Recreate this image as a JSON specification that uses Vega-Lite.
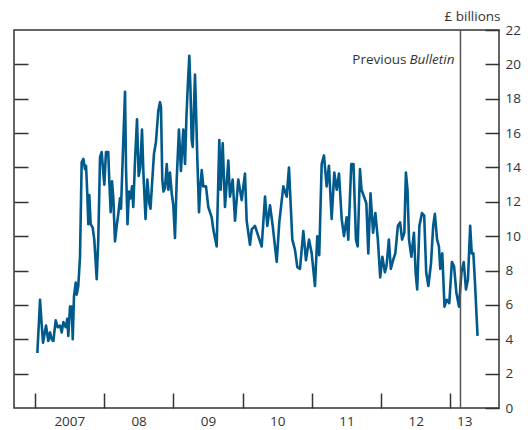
{
  "$schema": "https://vega.github.io/schema/vega-lite/v6.json",
  "width": 485,
  "height": 378,
  "autosize": {"type": "none"},
  "padding": {"left": 14, "top": 30, "right": 29, "bottom": 22},
  "config": {
    "view": {"stroke": "#333333", "strokeWidth": 1.5},
    "font": "Open Sans",
    "axis": {"labelFont": "Open Sans", "titleFont": "Open Sans", "labelColor": "#333333", "titleColor": "#333333", "tickColor": "#333333", "tickWidth": 1.5, "grid": false, "domain": false}
  },
  "layer": [
    {
      "data": {"values": [
        {"t":2007.038,"v":3.2},{"t":2007.077,"v":6.3},{"t":2007.098,"v":5.0},{"t":2007.120,"v":3.8},{"t":2007.163,"v":4.8},{"t":2007.196,"v":3.9},{"t":2007.221,"v":4.4},{"t":2007.245,"v":4.0},{"t":2007.269,"v":3.9},{"t":2007.303,"v":5.1},{"t":2007.332,"v":4.7},{"t":2007.365,"v":4.8},{"t":2007.390,"v":4.4},{"t":2007.413,"v":5.0},{"t":2007.448,"v":4.7},{"t":2007.471,"v":5.2},{"t":2007.485,"v":4.2},{"t":2007.510,"v":5.9},{"t":2007.534,"v":5.9},{"t":2007.549,"v":4.0},{"t":2007.567,"v":6.5},{"t":2007.592,"v":7.3},{"t":2007.606,"v":6.6},{"t":2007.629,"v":7.1},{"t":2007.654,"v":8.8},{"t":2007.678,"v":14.3},{"t":2007.702,"v":14.5},{"t":2007.726,"v":13.9},{"t":2007.741,"v":14.1},{"t":2007.759,"v":12.5},{"t":2007.774,"v":10.7},{"t":2007.788,"v":12.4},{"t":2007.808,"v":10.7},{"t":2007.837,"v":10.5},{"t":2007.860,"v":9.8},{"t":2007.895,"v":7.5},{"t":2007.918,"v":9.8},{"t":2007.943,"v":14.6},{"t":2007.967,"v":14.9},{"t":2007.990,"v":13.7},{"t":2008.005,"v":13.0},{"t":2008.029,"v":14.9},{"t":2008.062,"v":14.9},{"t":2008.077,"v":13.2},{"t":2008.097,"v":11.4},{"t":2008.116,"v":13.2},{"t":2008.135,"v":12.2},{"t":2008.159,"v":9.7},{"t":2008.184,"v":10.6},{"t":2008.207,"v":11.3},{"t":2008.231,"v":12.2},{"t":2008.246,"v":11.6},{"t":2008.270,"v":14.5},{"t":2008.304,"v":18.4},{"t":2008.318,"v":14.0},{"t":2008.340,"v":10.7},{"t":2008.361,"v":12.6},{"t":2008.383,"v":12.2},{"t":2008.405,"v":12.9},{"t":2008.423,"v":11.7},{"t":2008.448,"v":14.4},{"t":2008.477,"v":16.8},{"t":2008.501,"v":13.5},{"t":2008.524,"v":14.0},{"t":2008.549,"v":16.2},{"t":2008.571,"v":13.5},{"t":2008.600,"v":11.0},{"t":2008.626,"v":13.3},{"t":2008.654,"v":11.9},{"t":2008.672,"v":11.6},{"t":2008.701,"v":13.5},{"t":2008.722,"v":14.8},{"t":2008.751,"v":15.5},{"t":2008.784,"v":17.3},{"t":2008.809,"v":17.8},{"t":2008.823,"v":17.5},{"t":2008.842,"v":13.3},{"t":2008.859,"v":12.6},{"t":2008.881,"v":12.8},{"t":2008.906,"v":14.2},{"t":2008.929,"v":12.7},{"t":2008.953,"v":13.7},{"t":2008.978,"v":12.5},{"t":2009.001,"v":11.8},{"t":2009.025,"v":9.9},{"t":2009.050,"v":13.3},{"t":2009.082,"v":16.2},{"t":2009.111,"v":13.8},{"t":2009.145,"v":16.2},{"t":2009.170,"v":14.2},{"t":2009.191,"v":17.0},{"t":2009.213,"v":19.0},{"t":2009.232,"v":20.5},{"t":2009.249,"v":18.5},{"t":2009.266,"v":15.6},{"t":2009.281,"v":15.2},{"t":2009.314,"v":19.4},{"t":2009.328,"v":17.5},{"t":2009.347,"v":14.6},{"t":2009.372,"v":11.4},{"t":2009.386,"v":12.5},{"t":2009.411,"v":13.85},{"t":2009.434,"v":12.9},{"t":2009.473,"v":12.9},{"t":2009.506,"v":11.7},{"t":2009.555,"v":11.1},{"t":2009.578,"v":10.4},{"t":2009.627,"v":9.4},{"t":2009.665,"v":15.6},{"t":2009.685,"v":12.7},{"t":2009.714,"v":15.4},{"t":2009.747,"v":11.7},{"t":2009.795,"v":14.4},{"t":2009.819,"v":12.3},{"t":2009.858,"v":13.3},{"t":2009.892,"v":10.9},{"t":2009.939,"v":13.3},{"t":2009.988,"v":12.1},{"t":2010.036,"v":13.65},{"t":2010.060,"v":10.9},{"t":2010.108,"v":9.5},{"t":2010.133,"v":10.4},{"t":2010.180,"v":10.6},{"t":2010.228,"v":10.0},{"t":2010.277,"v":9.4},{"t":2010.325,"v":12.3},{"t":2010.358,"v":10.6},{"t":2010.397,"v":11.8},{"t":2010.436,"v":10.6},{"t":2010.494,"v":8.5},{"t":2010.531,"v":10.8},{"t":2010.589,"v":12.9},{"t":2010.638,"v":12.3},{"t":2010.671,"v":14.0},{"t":2010.719,"v":9.8},{"t":2010.758,"v":9.2},{"t":2010.791,"v":8.2},{"t":2010.830,"v":8.1},{"t":2010.878,"v":10.3},{"t":2010.916,"v":8.6},{"t":2010.960,"v":9.8},{"t":2010.999,"v":9.0},{"t":2011.046,"v":7.1},{"t":2011.080,"v":10.0},{"t":2011.108,"v":8.9},{"t":2011.143,"v":14.2},{"t":2011.176,"v":14.7},{"t":2011.215,"v":12.9},{"t":2011.248,"v":14.1},{"t":2011.287,"v":11.0},{"t":2011.325,"v":13.7},{"t":2011.360,"v":12.7},{"t":2011.393,"v":13.65},{"t":2011.432,"v":11.0},{"t":2011.465,"v":10.0},{"t":2011.504,"v":11.1},{"t":2011.527,"v":9.8},{"t":2011.570,"v":14.2},{"t":2011.602,"v":14.2},{"t":2011.638,"v":9.8},{"t":2011.663,"v":9.4},{"t":2011.696,"v":13.9},{"t":2011.718,"v":12.7},{"t":2011.754,"v":12.3},{"t":2011.788,"v":11.9},{"t":2011.816,"v":9.0},{"t":2011.848,"v":12.5},{"t":2011.885,"v":10.2},{"t":2011.918,"v":11.35},{"t":2011.954,"v":9.8},{"t":2011.988,"v":7.6},{"t":2012.019,"v":8.8},{"t":2012.056,"v":7.9},{"t":2012.080,"v":8.3},{"t":2012.113,"v":9.8},{"t":2012.141,"v":8.1},{"t":2012.174,"v":8.6},{"t":2012.206,"v":9.0},{"t":2012.243,"v":10.6},{"t":2012.275,"v":10.8},{"t":2012.304,"v":9.8},{"t":2012.336,"v":10.2},{"t":2012.359,"v":13.7},{"t":2012.382,"v":12.7},{"t":2012.404,"v":9.8},{"t":2012.438,"v":8.8},{"t":2012.475,"v":10.2},{"t":2012.499,"v":7.9},{"t":2012.522,"v":6.9},{"t":2012.554,"v":10.6},{"t":2012.591,"v":11.35},{"t":2012.623,"v":11.2},{"t":2012.652,"v":7.9},{"t":2012.683,"v":7.1},{"t":2012.721,"v":8.4},{"t":2012.753,"v":10.6},{"t":2012.777,"v":11.3},{"t":2012.809,"v":9.8},{"t":2012.836,"v":9.4},{"t":2012.855,"v":8.1},{"t":2012.884,"v":9.0},{"t":2012.916,"v":5.9},{"t":2012.949,"v":6.3},{"t":2012.985,"v":6.1},{"t":2013.023,"v":8.5},{"t":2013.054,"v":8.25},{"t":2013.088,"v":6.7},{"t":2013.125,"v":5.9},{"t":2013.161,"v":7.9},{"t":2013.194,"v":8.5},{"t":2013.226,"v":6.9},{"t":2013.255,"v":7.5},{"t":2013.287,"v":10.6},{"t":2013.309,"v":9.0},{"t":2013.333,"v":9.0},{"t":2013.356,"v":7.3},{"t":2013.393,"v":4.2}
      ]},
      "mark": {"type": "line", "color": "#005a8c", "strokeWidth": 2.6, "strokeJoin": "round"},
      "encoding": {
        "x": {"field": "t", "type": "quantitative",
          "scale": {"domain": [2006.701, 2013.703], "nice": false, "zero": false},
          "axis": {"orient": "bottom", "values": [2007, 2008, 2009, 2010, 2011, 2012, 2013], "labels": false, "tickSize": -15, "title": null}},
        "y": {"field": "v", "type": "quantitative",
          "scale": {"domain": [0, 22], "nice": false},
          "axis": {"orient": "left", "values": [2, 4, 6, 8, 10, 12, 14, 16, 18, 20], "labels": false, "tickSize": -14, "title": null}}
      }
    },
    {
      "data": {"values": [{"t": 2013.147}]},
      "mark": {"type": "rule", "color": "#555555", "strokeWidth": 1.5},
      "encoding": {
        "x": {"field": "t", "type": "quantitative",
          "axis": {"orient": "bottom", "values": [2007.5, 2008.5, 2009.5, 2010.5, 2011.5, 2012.5, 2013.2], "ticks": false, "labelPadding": 6, "labelFontSize": 13.5,
            "labelExpr": "datum.value < 2008 ? '2007' : format(floor(datum.value) - 2000, '02d')", "title": null}}
      }
    },
    {
      "data": {"values": [{"t": 2013.147, "v": 20.25, "label": "Bulletin"}]},
      "mark": {"type": "text", "align": "right", "baseline": "middle", "dx": -6, "fontStyle": "italic", "fontSize": 13.5, "color": "#333333"},
      "encoding": {
        "x": {"field": "t", "type": "quantitative", "axis": null},
        "y": {"field": "v", "type": "quantitative",
          "axis": {"orient": "right", "values": [0, 2, 4, 6, 8, 10, 12, 14, 16, 18, 20, 22], "tickSize": -14, "labelPadding": 20, "labelFontSize": 13.5,
            "title": "£ billions", "titleAngle": 0, "titleAlign": "right", "titleBaseline": "alphabetic", "titleX": 1, "titleY": -10, "titleFontWeight": "normal", "titleFontSize": 13.5}},
        "text": {"field": "label"}
      }
    },
    {
      "data": {"values": [{"t": 2013.147, "v": 20.25, "label": "Previous"}]},
      "mark": {"type": "text", "align": "right", "baseline": "middle", "dx": -54, "fontSize": 13.5, "color": "#333333"},
      "encoding": {
        "x": {"field": "t", "type": "quantitative", "axis": null},
        "y": {"field": "v", "type": "quantitative", "axis": null},
        "text": {"field": "label"}
      }
    }
  ],
  "resolve": {"axis": {"x": "independent", "y": "independent"}}
}
